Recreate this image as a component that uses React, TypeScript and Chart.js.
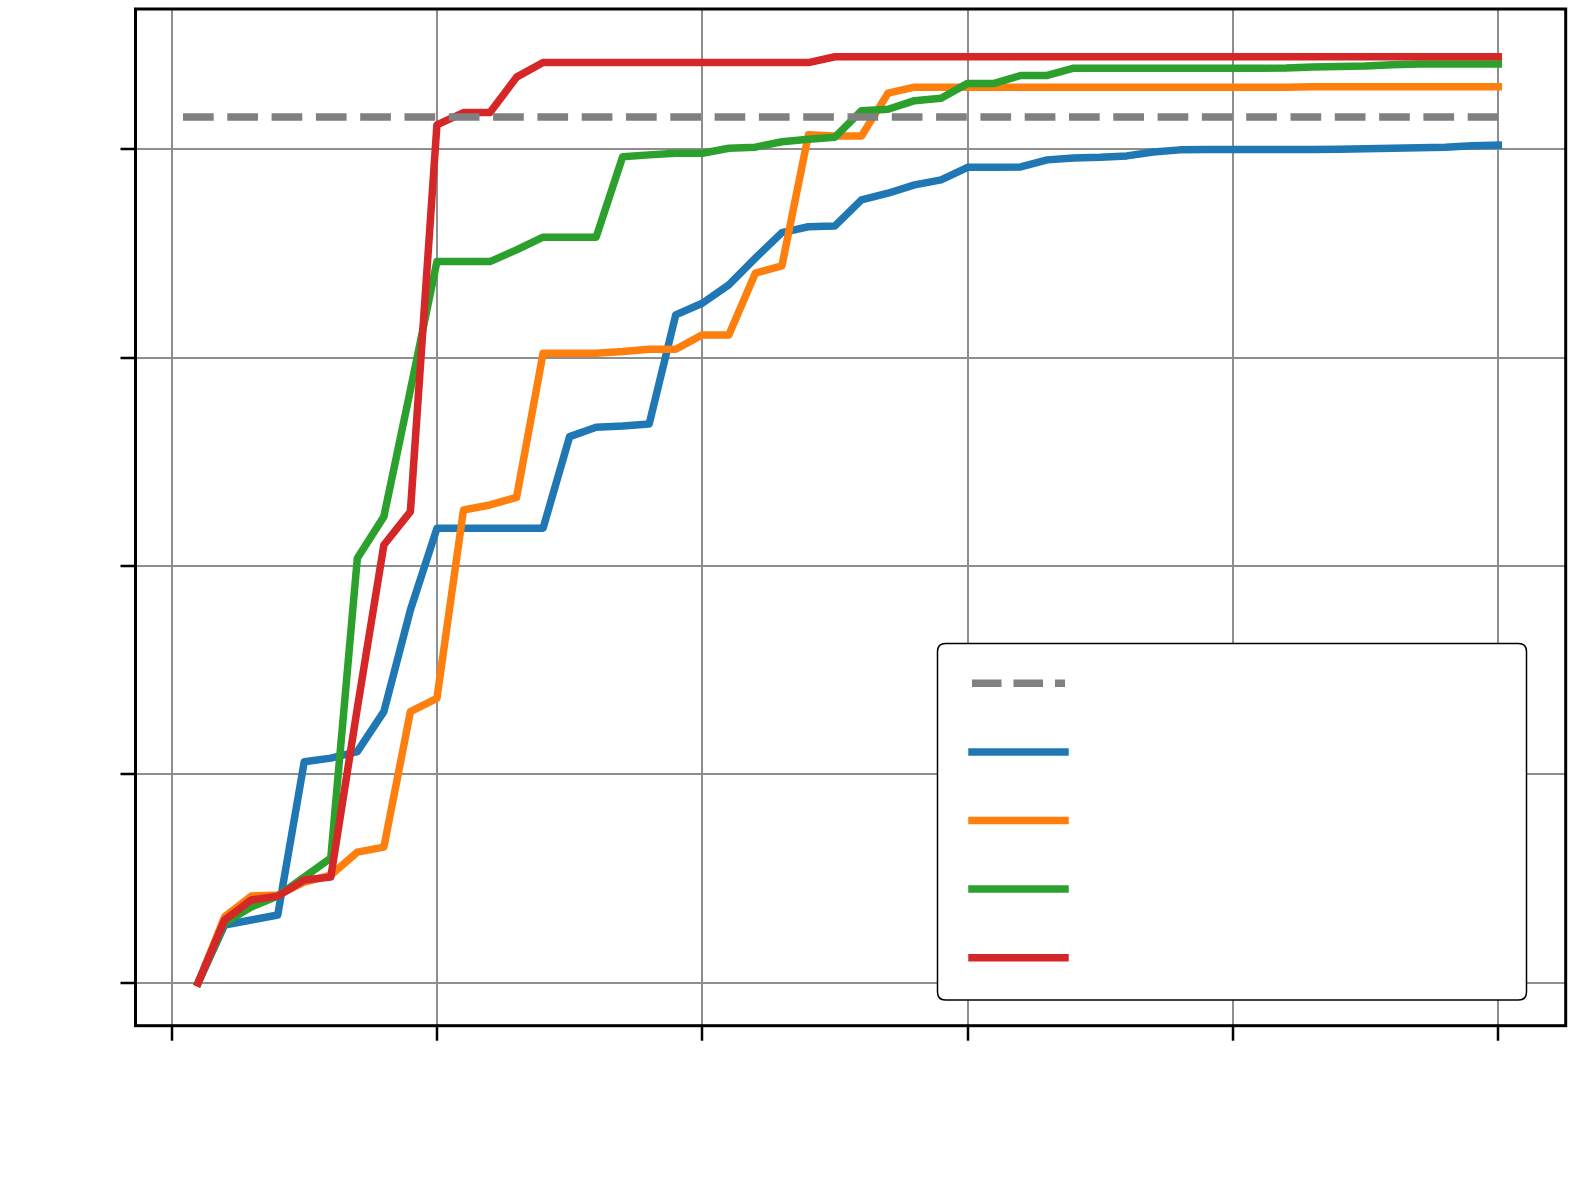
import React, { useEffect, useRef } from "react";
import { Chart, registerables } from "chart.js";

Chart.register(...registerables);

// ---- data ----
const steps = [
  1, 2, 3, 4, 5, 6, 7, 8, 9, 10, 11, 12, 13, 14, 15, 16, 17, 18, 19, 20, 21, 22, 23, 24, 25,
  26, 27, 28, 29, 30, 31, 32, 33, 34, 35, 36, 37, 38, 39, 40, 41, 42, 43, 44, 45, 46, 47, 48, 49, 50,
];
const xTicks = [0, 10, 20, 30, 40, 50];
const yTicks = [0.5, 0.6, 0.7, 0.8, 0.9];

const thresholdX = [0.43, 50];
const thresholdY = [0.9155, 0.9155];

const seriesBlue = [
  0.5, 0.5277, 0.5301, 0.5325, 0.6061, 0.6078, 0.6109, 0.6301, 0.6789, 0.7181,
  0.7181, 0.7181, 0.7181, 0.7181, 0.7621, 0.7666, 0.7672, 0.7682, 0.8205, 0.8261,
  0.8349, 0.8477, 0.86, 0.8628, 0.8632, 0.8757, 0.8789, 0.8829, 0.8853, 0.8913,
  0.8913, 0.8915, 0.8949, 0.8958, 0.8961, 0.8968, 0.8987, 0.8997, 0.8999, 0.8999,
  0.8999, 0.8999, 0.8999, 0.9, 0.9002, 0.9005, 0.9007, 0.901, 0.9017, 0.902,
];
const seriesOrange = [
  0.5, 0.5317, 0.5416, 0.5421, 0.5483, 0.5517, 0.5627, 0.5651, 0.6301, 0.6365,
  0.7269, 0.7293, 0.7329, 0.8021, 0.8021, 0.8021, 0.8029, 0.804, 0.804, 0.8109,
  0.8109, 0.8405, 0.844, 0.9069, 0.9064, 0.9064, 0.9269, 0.9298, 0.9298, 0.9298,
  0.9298, 0.9298, 0.9298, 0.9298, 0.9298, 0.9298, 0.9298, 0.9298, 0.9298, 0.9298,
  0.9298, 0.9298, 0.93, 0.93, 0.93, 0.93, 0.93, 0.93, 0.93, 0.93,
];
const seriesGreen = [
  0.5, 0.5287, 0.5363, 0.5416, 0.5507, 0.5599, 0.7037, 0.7237, 0.7845, 0.8461,
  0.8461, 0.8461, 0.8517, 0.8578, 0.8578, 0.8578, 0.8964, 0.8973, 0.8981, 0.8981,
  0.9005, 0.901, 0.9036, 0.9048, 0.9058, 0.9185, 0.9192, 0.9233, 0.9245, 0.9316,
  0.9316, 0.9354, 0.9354, 0.9389, 0.9389, 0.9389, 0.9389, 0.9389, 0.9389, 0.9389,
  0.9389, 0.939, 0.9395, 0.9397, 0.94, 0.9406, 0.9409, 0.9409, 0.9409, 0.9409,
];
const seriesRed = [
  0.5, 0.5301, 0.5397, 0.5416, 0.5493, 0.5507, 0.6318, 0.7101, 0.7261, 0.9117,
  0.9176, 0.9176, 0.9346, 0.9416, 0.9416, 0.9416, 0.9416, 0.9416, 0.9416, 0.9416,
  0.9416, 0.9416, 0.9416, 0.9416, 0.9444, 0.9444, 0.9444, 0.9444, 0.9444, 0.9444,
  0.9444, 0.9444, 0.9444, 0.9444, 0.9444, 0.9444, 0.9444, 0.9444, 0.9444, 0.9444,
  0.9444, 0.9444, 0.9444, 0.9444, 0.9444, 0.9444, 0.9444, 0.9444, 0.9444, 0.9444,
];

const seriesNames = ["threshold", "run 1", "run 2", "run 3", "run 4"];
const seriesColors = ["#808080", "#1f77b4", "#ff7f0e", "#2ca02c", "#d62728"];

const LINE_W = 7.5;
const DASH = [30.7, 13.6];
const LEGEND_DASH = [29.5, 12];

const pts = (xs: number[], ys: number[]) => xs.map((x, i) => ({ x, y: ys[i] }));

const framePlugin = {
  id: "frame",
  afterDatasetsDraw(chart: any) {
    const { ctx, chartArea: a } = chart;
    ctx.save();
    ctx.strokeStyle = "#000";
    ctx.lineWidth = 3;
    ctx.strokeRect(a.left, a.top, a.right - a.left, a.bottom - a.top);
    ctx.restore();
  },
};

const legendPlugin = {
  id: "boxLegend",
  afterDraw(chart: any) {
    const { ctx } = chart;
    const bx = 937.5, by = 643.5, bw = 589, bh = 356.5, r = 8;
    ctx.save();
    ctx.beginPath();
    ctx.moveTo(bx + r, by);
    ctx.lineTo(bx + bw - r, by);
    ctx.quadraticCurveTo(bx + bw, by, bx + bw, by + r);
    ctx.lineTo(bx + bw, by + bh - r);
    ctx.quadraticCurveTo(bx + bw, by + bh, bx + bw - r, by + bh);
    ctx.lineTo(bx + r, by + bh);
    ctx.quadraticCurveTo(bx, by + bh, bx, by + bh - r);
    ctx.lineTo(bx, by + r);
    ctx.quadraticCurveTo(bx, by, bx + r, by);
    ctx.closePath();
    ctx.fillStyle = "#fff";
    ctx.fill();
    ctx.strokeStyle = "#000";
    ctx.lineWidth = 1.5;
    ctx.stroke();

    const order = [0, 1, 2, 3, 4];
    order.forEach((di, k) => {
      const ds = chart.data.datasets[di];
      const y = 683.3 + k * 68.6;
      ctx.beginPath();
      ctx.strokeStyle = ds.borderColor;
      ctx.lineWidth = ds.borderWidth;
      if (ds.borderDash && ds.borderDash.length) {
        ctx.setLineDash(LEGEND_DASH);
        ctx.lineCap = "butt";
      } else {
        ctx.setLineDash([]);
        ctx.lineCap = "square";
      }
      ctx.moveTo(972, y);
      ctx.lineTo(1065, y);
      ctx.stroke();
    });
    ctx.restore();
  },
};

export default function App() {
  const ref = useRef<HTMLCanvasElement | null>(null);

  useEffect(() => {
    document.body.style.margin = "0";
    document.body.style.overflow = "hidden";
    const canvas = ref.current;
    if (!canvas) return;

    const solid = (label: string, color: string, ys: number[], order: number) => ({
      label,
      data: pts(steps, ys),
      borderColor: color,
      backgroundColor: color,
      borderWidth: LINE_W,
      borderCapStyle: "square",
      borderJoinStyle: "round",
      pointRadius: 0,
      pointHoverRadius: 0,
      tension: 0,
      fill: false,
      order,
    });

    const chart = new Chart(canvas, {
      type: "line",
      data: {
        datasets: [
          {
            label: seriesNames[0],
            data: pts(thresholdX, thresholdY),
            borderColor: seriesColors[0],
            backgroundColor: seriesColors[0],
            borderWidth: LINE_W,
            borderDash: DASH,
            borderCapStyle: "butt",
            pointRadius: 0,
            pointHoverRadius: 0,
            fill: false,
            order: 0,
          },
          solid(seriesNames[1], seriesColors[1], seriesBlue, 4),
          solid(seriesNames[2], seriesColors[2], seriesOrange, 3),
          solid(seriesNames[3], seriesColors[3], seriesGreen, 2),
          solid(seriesNames[4], seriesColors[4], seriesRed, 1),
        ] as any,
      },
      options: {
        animation: false,
        responsive: false,
        maintainAspectRatio: false,
        devicePixelRatio: 1,
        layout: { padding: { left: 120.5, right: 13.3, top: 9, bottom: 151.3 } },
        plugins: { legend: { display: false }, tooltip: { enabled: false } },
        events: [],
        scales: {
          x: {
            type: "linear",
            min: -1.36,
            max: 52.54,
            afterBuildTicks: (s: any) => {
              s.ticks = xTicks.map((v) => ({ value: v }));
            },
            ticks: { display: false },
            grid: {
              color: "#8e8e8e",
              lineWidth: 2,
              drawTicks: true,
              tickLength: 15,
              tickColor: "#000",
              tickWidth: 2.5,
            },
            border: { display: false },
          },
          y: {
            type: "linear",
            min: 0.4794,
            max: 0.9673,
            afterBuildTicks: (s: any) => {
              s.ticks = yTicks.map((v) => ({ value: v }));
            },
            ticks: { display: false },
            grid: {
              color: "#8e8e8e",
              lineWidth: 2,
              drawTicks: true,
              tickLength: 15,
              tickColor: "#000",
              tickWidth: 2.5,
            },
            border: { display: false },
          },
        },
      } as any,
      plugins: [framePlugin, legendPlugin],
    });

    return () => chart.destroy();
  }, []);

  return (
    <div style={{ position: "absolute", left: 0, top: 0, width: 1579, height: 1192, background: "#fff" }}>
      <canvas ref={ref} width={1579} height={1192} style={{ display: "block", width: 1579, height: 1192 }} />
    </div>
  );
}
